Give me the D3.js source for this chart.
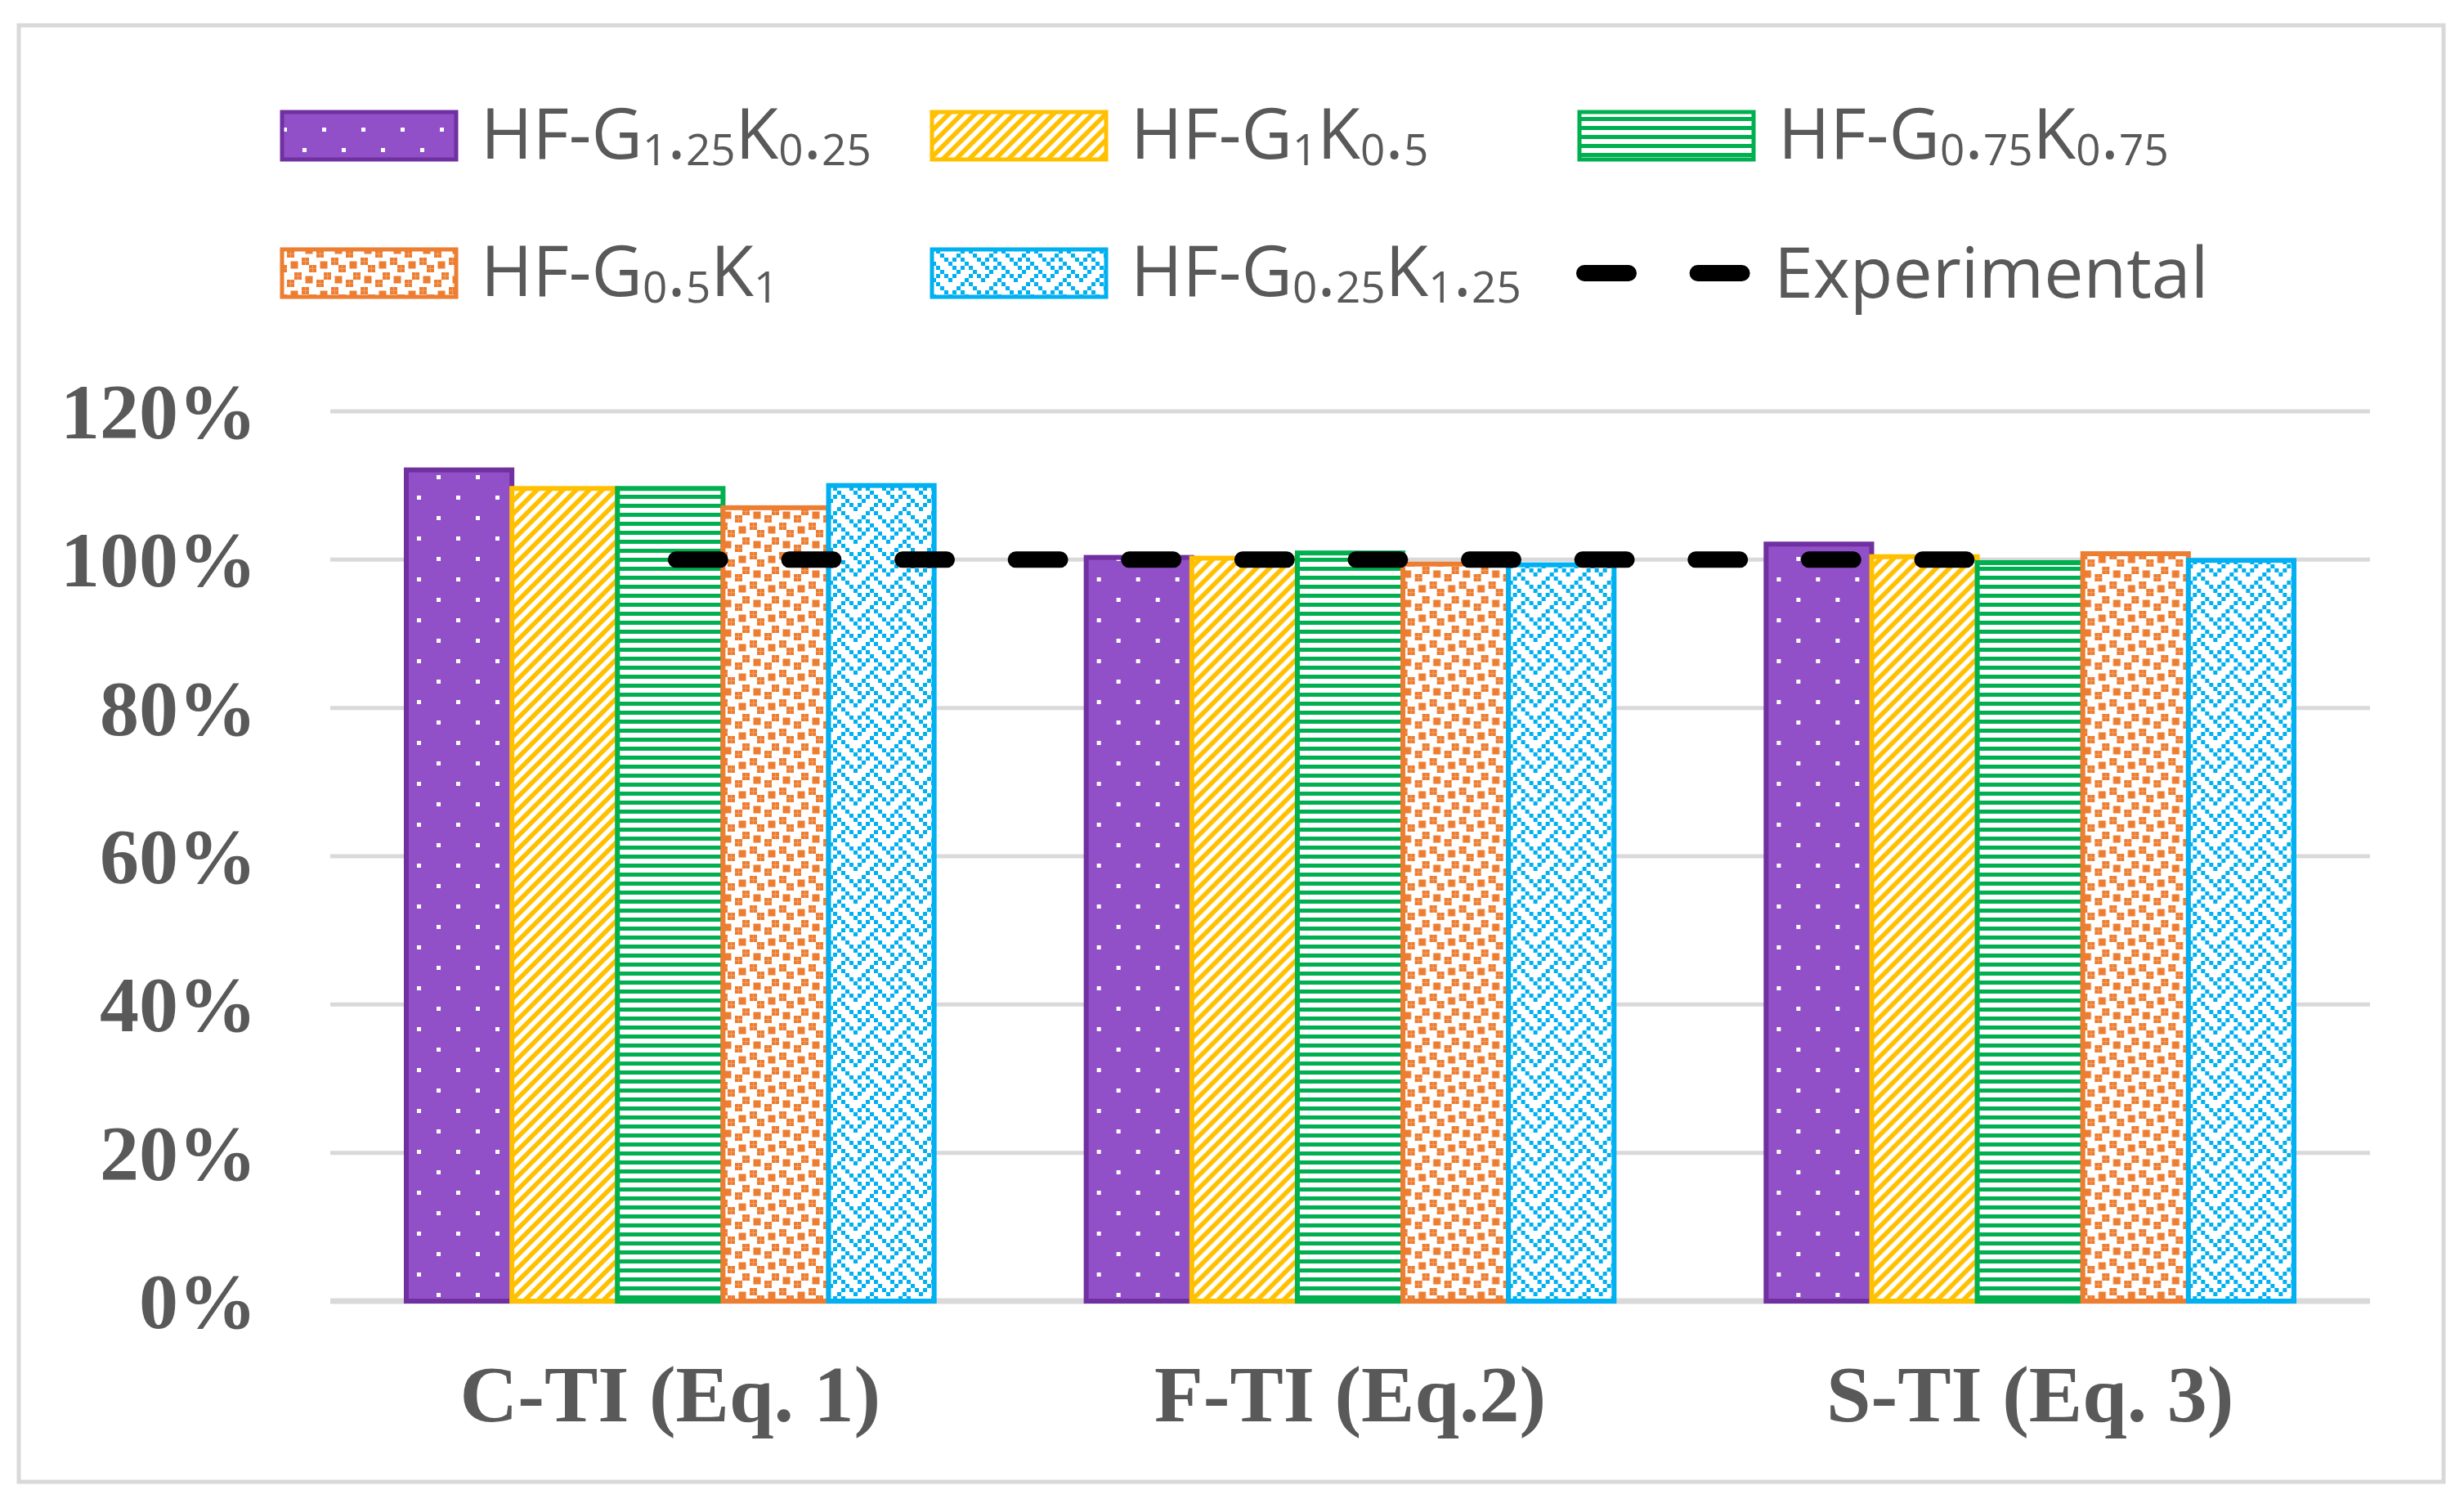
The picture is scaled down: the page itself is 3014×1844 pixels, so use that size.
<!DOCTYPE html>
<html>
<head>
<meta charset="utf-8">
<script src="https://cdn.jsdelivr.net/npm/d3@7"></script>
<style>
  body { margin: 0; background: #fff; }
  .legend-label { font-family: "Open Sans", sans-serif; fill: #595959; }
</style>
</head>
<body>
<svg id="chart"></svg>
<script>
// categories and series
var categories = ["C-TI (Eq. 1)", "F-TI (Eq.2)", "S-TI (Eq. 3)"];
// "_" marks a subscript run of digits
var seriesNames = ["HF-G_1._25K_0._25", "HF-G_1K_0._5", "HF-G_0._75K_0._75", "HF-G_0._5K_1", "HF-G_0._25K_1._25"];
var seriesValues = [
  [112.1, 100.3, 102.1],
  [109.6, 100.2, 100.4],
  [109.6, 100.9, 99.6],
  [107.0, 99.4, 100.8],
  [110.0, 99.3, 99.9]
];
var experimental = [100, 100, 100];
var yTicks = [0, 20, 40, 60, 80, 100, 120];

var W = 3014, H = 1844;
var svg = d3.select("#chart").attr("width", W).attr("height", H);

var colors = ["#7030A0", "#FFC000", "#00B050", "#ED7D31", "#00B0F0"];
var patternIds = ["pDots", "pDiag", "pHoriz", "pConfetti", "pWeave"];

var defs = svg.append("defs");

// purple: white dots on light purple
var p = defs.append("pattern").attr("id", "pDots").attr("patternUnits", "userSpaceOnUse")
    .attr("width", 48).attr("height", 50);
p.append("rect").attr("width", 48).attr("height", 50).attr("fill", "#9150C8");
p.append("rect").attr("x", 10).attr("y", 6).attr("width", 5).attr("height", 5).attr("fill", "#fff");
p.append("rect").attr("x", 34).attr("y", 31).attr("width", 5).attr("height", 5).attr("fill", "#fff");

// yellow: upward diagonal stripes
p = defs.append("pattern").attr("id", "pDiag").attr("patternUnits", "userSpaceOnUse")
    .attr("width", 16).attr("height", 16);
p.append("rect").attr("width", 16).attr("height", 16).attr("fill", "#fff");
p.append("path").attr("d", "M0,0L8,0L0,8Z M16,0L16,8L8,16L0,16Z").attr("fill", "#FFC000");

// green: narrow horizontal
p = defs.append("pattern").attr("id", "pHoriz").attr("patternUnits", "userSpaceOnUse")
    .attr("width", 11).attr("height", 11);
p.append("rect").attr("width", 11).attr("height", 11).attr("fill", "#fff");
p.append("rect").attr("width", 11).attr("height", 5).attr("fill", "#00B050");

// bitmap patterns (8x8 bits)
function bitPattern(id, bits, color, u) {
  var pat = defs.append("pattern").attr("id", id).attr("patternUnits", "userSpaceOnUse")
      .attr("width", 8 * u).attr("height", 8 * u);
  pat.append("rect").attr("width", 8 * u).attr("height", 8 * u).attr("fill", "#fff");
  bits.forEach(function(b, r) {
    for (var c = 0; c < 8; c++) {
      if (b & (0x80 >> c)) {
        pat.append("rect").attr("x", c * u).attr("y", r * u)
          .attr("width", u).attr("height", u).attr("fill", color);
      }
    }
  });
}
bitPattern("pConfetti", [0x8d, 0x0c, 0xc0, 0xd8, 0x1b, 0x03, 0x30, 0xb1], "#ED7D31", 4.5);
bitPattern("pWeave", [0x88, 0x54, 0x22, 0x45, 0x88, 0x14, 0x22, 0x51], "#00B0F0", 5);

// outer frame
svg.append("rect")
    .attr("x", 23).attr("y", 31)
    .attr("width", 2966).attr("height", 1781)
    .attr("fill", "#fff")
    .attr("stroke", "#d9d9d9")
    .attr("stroke-width", 5);

// scales
var x0 = d3.scaleBand().domain(categories).range([404, 2899]).paddingInner(0).paddingOuter(0);
var x1 = d3.scaleBand().domain(d3.range(seriesNames.length)).range([0, x0.bandwidth()])
    .paddingInner(0).paddingOuter(0.72);
var y = d3.scaleLinear().domain([0, 120]).range([1591, 503]);

// gridlines
svg.append("g").selectAll("line").data(yTicks).join("line")
    .attr("x1", 404).attr("x2", 2899)
    .attr("y1", function(d) { return y(d); })
    .attr("y2", function(d) { return y(d); })
    .attr("stroke", "#d9d9d9")
    .attr("stroke-width", function(d) { return d === 0 ? 7 : 5; });

// y axis labels
var yAxis = d3.axisLeft(y).tickValues(yTicks).tickFormat(function(d) { return d + "%"; }).tickSize(0).tickPadding(0);
var yg = svg.append("g").attr("transform", "translate(314,0)").call(yAxis);
yg.select(".domain").remove();
yg.selectAll("text")
    .attr("font-size", 96)
    .attr("dy", "0.34em")
    .style("font-family", "'Liberation Serif', serif")
    .style("font-weight", "bold")
    .style("fill", "#595959");

// x axis labels
var xAxis = d3.axisBottom(x0).tickSize(0).tickPadding(0);
var xg = svg.append("g").attr("transform", "translate(0,1738)").call(xAxis);
xg.select(".domain").remove();
xg.selectAll("text")
    .attr("dy", 0)
    .attr("font-size", 98)
    .style("font-family", "'Liberation Serif', serif")
    .style("font-weight", "bold")
    .style("fill", "#595959");

// bars
var groups = svg.append("g").selectAll("g").data(categories).join("g")
    .attr("transform", function(d) { return "translate(" + x0(d) + ",0)"; });

groups.selectAll("rect")
    .data(function(c, ci) { return seriesValues.map(function(vals, si) { return { s: si, v: vals[ci] }; }); })
    .join("rect")
    .attr("x", function(d) { return x1(d.s); })
    .attr("width", x1.bandwidth())
    .attr("y", function(d) { return y(d.v); })
    .attr("height", function(d) { return y(0) - y(d.v); })
    .attr("fill", function(d) { return "url(#" + patternIds[d.s] + ")"; })
    .attr("stroke", function(d) { return colors[d.s]; })
    .attr("stroke-width", 6);

// experimental dashed line
var line = d3.line()
    .x(function(d, i) { return x0(categories[i]) + x0.bandwidth() / 2; })
    .y(function(d) { return y(d); });
svg.append("path")
    .attr("d", line(experimental))
    .attr("fill", "none")
    .attr("stroke", "#000")
    .attr("stroke-width", 20)
    .attr("stroke-linecap", "round")
    .attr("stroke-dasharray", "54 84.6")
    .attr("stroke-dashoffset", -7);

// legend
var legendPos = [
  { x: 345, cy: 166 }, { x: 1140, cy: 166 }, { x: 1932, cy: 166 },
  { x: 345, cy: 334 }, { x: 1140, cy: 334 }, { x: 1932, cy: 334 }
];

function addLabel(g, txt, tx, baseline) {
  var t = g.append("text").attr("class", "legend-label")
      .attr("x", tx).attr("y", baseline).attr("font-size", 86);
  // split into normal and subscript runs
  var parts = txt.split(/(_\d+)/).filter(function(s) { return s.length; });
  var shifted = false;
  parts.forEach(function(s) {
    if (s[0] === "_") {
      t.append("tspan").attr("font-size", 53).attr("dy", shifted ? 0 : 8).text(s.slice(1));
      shifted = true;
    } else {
      t.append("tspan").attr("dy", shifted ? -8 : 0).text(s);
      shifted = false;
    }
  });
}

var legend = svg.append("g");
seriesNames.forEach(function(name, i) {
  var pos = legendPos[i];
  legend.append("rect")
      .attr("x", pos.x).attr("y", pos.cy - 29)
      .attr("width", 213).attr("height", 58)
      .attr("fill", "url(#" + patternIds[i] + ")")
      .attr("stroke", colors[i])
      .attr("stroke-width", 5);
  addLabel(legend, name, pos.x + 243, pos.cy + 28);
});

var ep = legendPos[5];
legend.append("line")
    .attr("x1", ep.x + 6).attr("x2", ep.x + 199)
    .attr("y1", ep.cy).attr("y2", ep.cy)
    .attr("stroke", "#000")
    .attr("stroke-width", 20)
    .attr("stroke-linecap", "round")
    .attr("stroke-dasharray", "54 84.6");
addLabel(legend, "Experimental", ep.x + 238, ep.cy + 30);
</script>
</body>
</html>
